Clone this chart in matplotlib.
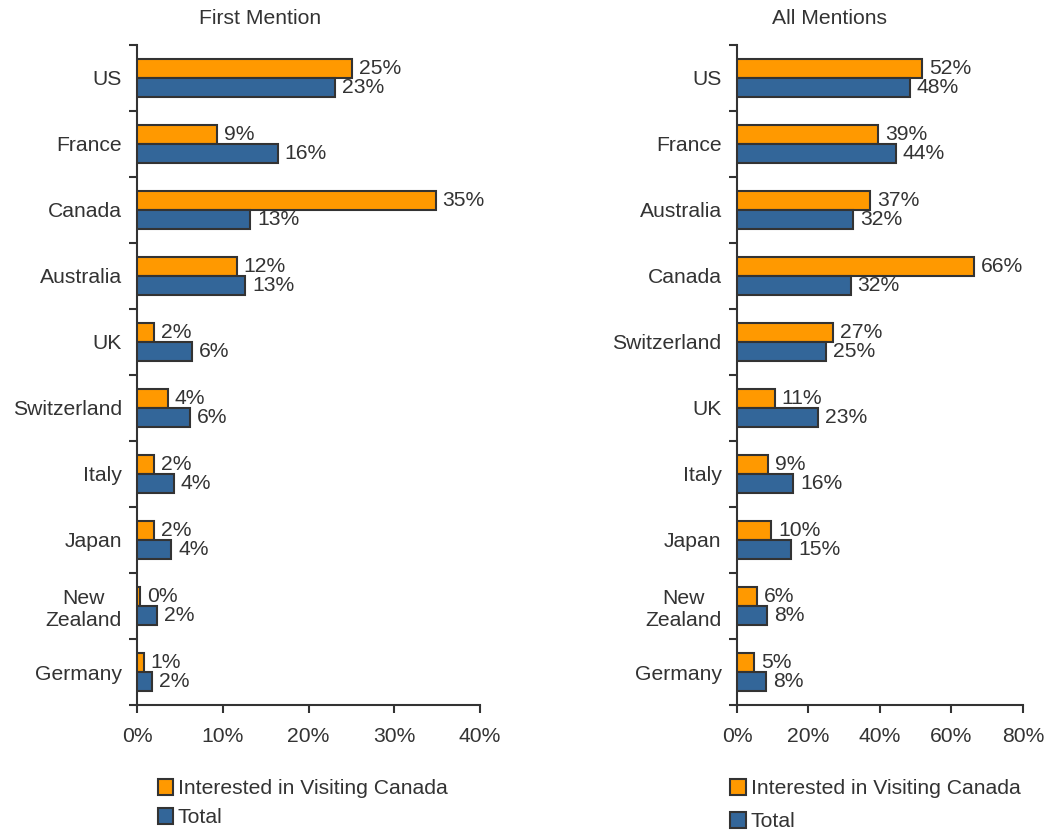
import numpy as np
import matplotlib
matplotlib.use('Agg')
import matplotlib.pyplot as plt
from matplotlib.ticker import FixedLocator, PercentFormatter
from matplotlib.patches import Patch

plt.rcParams['font.family'] = ['Liberation Sans', 'DejaVu Sans']

# First Mention
first_countries = ['US', 'France', 'Canada', 'Australia', 'UK', 'Switzerland',
                   'Italy', 'Japan', 'New\nZealand', 'Germany']
first_interested = [25.1, 9.3, 34.8, 11.6, 2.0, 3.6, 2.0, 2.0, 0.35, 0.8]
first_total = [23.1, 16.4, 13.2, 12.6, 6.4, 6.2, 4.3, 4.0, 2.3, 1.7]

# All Mentions
all_countries = ['US', 'France', 'Australia', 'Canada', 'Switzerland', 'UK',
                 'Italy', 'Japan', 'New\nZealand', 'Germany']
all_interested = [51.7, 39.4, 37.2, 66.4, 26.9, 10.6, 8.7, 9.6, 5.6, 4.8]
all_total = [48.4, 44.4, 32.4, 31.8, 24.9, 22.7, 15.7, 15.1, 8.4, 8.1]

ORANGE = '#FF9900'
BLUE = '#336699'
EDGE = '#333333'
TEXT = '#333333'
FS = 15.2

fig = plt.figure(figsize=(10.51, 8.30), dpi=100)


def draw_panel(rect, countries, interested, total, xmax, xstep, title, title_x,
               leg_anchor, leg_spacing):
    ax = fig.add_axes(rect)
    n = len(countries)
    y = np.arange(n)
    h = 0.29
    ax.barh(y - h / 2, interested, height=h, color=ORANGE, edgecolor=EDGE,
            linewidth=1.5, zorder=3)
    ax.barh(y + h / 2, total, height=h, color=BLUE, edgecolor=EDGE,
            linewidth=1.5, zorder=3)
    for i in range(n):
        ax.annotate(f'{interested[i]:.0f}%', (interested[i], y[i] - h / 2),
                    xytext=(5, 0), textcoords='offset points',
                    va='center', ha='left', fontsize=FS, color=TEXT)
        ax.annotate(f'{total[i]:.0f}%', (total[i], y[i] + h / 2),
                    xytext=(5, 0), textcoords='offset points',
                    va='center', ha='left', fontsize=FS, color=TEXT)

    ax.set_ylim(n - 0.5, -0.5)
    ax.set_xlim(0, xmax)
    ax.set_yticks(y)
    ax.set_yticklabels(countries, fontsize=FS, color=TEXT,
                       multialignment='center')
    ax.yaxis.set_minor_locator(FixedLocator(np.arange(-0.5, n, 1.0)))
    ax.tick_params(axis='y', which='major', length=0, pad=11)
    ax.tick_params(axis='y', which='minor', length=6, width=1.5,
                   color=EDGE, direction='out')
    ax.set_xticks(np.arange(0, xmax + 0.01, xstep))
    ax.xaxis.set_major_formatter(PercentFormatter(decimals=0))
    ax.tick_params(axis='x', length=6, width=1.5, color=EDGE,
                   labelsize=FS, labelcolor=TEXT, pad=10)
    for s in ['top', 'right']:
        ax.spines[s].set_visible(False)
    for s in ['left', 'bottom']:
        ax.spines[s].set_color(EDGE)
        ax.spines[s].set_linewidth(1.5)

    fig.text(title_x, 0.978, title, ha='center', va='center',
             fontsize=FS, color=TEXT)

    handles = [Patch(facecolor=ORANGE, edgecolor=EDGE, linewidth=1.5,
                     label='Interested in Visiting Canada'),
               Patch(facecolor=BLUE, edgecolor=EDGE, linewidth=1.5,
                     label='Total')]
    fig.legend(handles=handles, loc='upper left', bbox_to_anchor=leg_anchor,
               frameon=False, fontsize=FS, handlelength=0.75,
               handleheight=0.75, handletextpad=0.2, labelspacing=leg_spacing,
               labelcolor=TEXT, borderaxespad=0, borderpad=0)
    return ax


draw_panel([0.1304, 0.1506, 0.3264, 0.7952], first_countries, first_interested,
           first_total, 40, 10, 'First Mention', 0.2475, (0.150, 0.061), 0.47)
draw_panel([0.7012, 0.1506, 0.2721, 0.7952], all_countries, all_interested,
           all_total, 80, 20, 'All Mentions', 0.789, (0.695, 0.061), 0.65)

fig.savefig('out.png', dpi=100)
